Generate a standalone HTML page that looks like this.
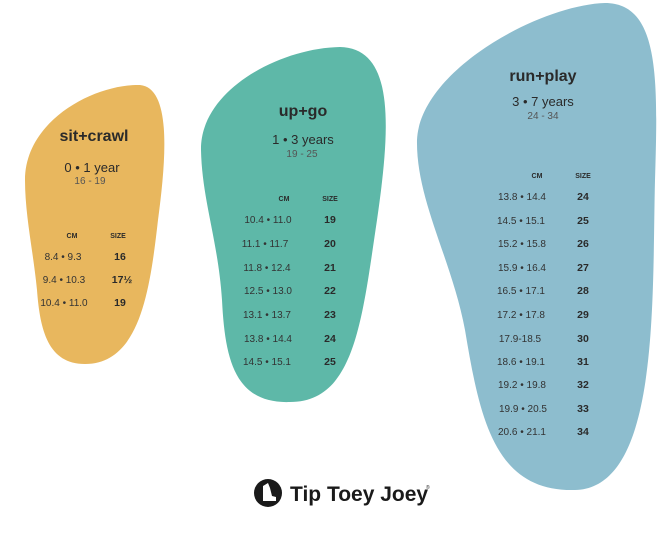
<!DOCTYPE html>
<html><head><meta charset="utf-8"><style>
body{margin:0;background:#fff;}
svg text{font-family:"Liberation Sans",sans-serif;fill:#2a2a2a;text-anchor:middle;}
.t{font-weight:bold;font-size:16px;}
.a{font-size:13px;}
.r{font-size:10px;fill:#555;}
.h{font-size:7px;font-weight:bold;}
.c{font-size:10px;fill:#333;}
.s{font-size:10.5px;font-weight:bold;}
</style></head><body>
<svg width="660" height="530" viewBox="0 0 660 530">
<path d="M25,180 C25,120 95,84 140,85 C172,88 166,160 158,220 C150,290 140,364 85,364 C48,364 40,330 37,290 C33,250 25,215 25,180Z" fill="#E8B75E"/>
<path d="M201,150 C200,90 280,48 340,47 C396,48 390,130 377,220 C362,320 355,402 290,402 C235,404 225,360 222,300 C218,240 202,200 201,150Z" fill="#5EB8A8"/>
<path d="M417,140 C420,70 540,5 605,3 C660,3 658,80 655,180 C652,300 660,488 575,490 C495,492 480,420 465,330 C452,260 416,200 417,140Z" fill="#8DBDCE"/>
<text class="t" x="94" y="141">sit+crawl</text>
<text class="a" x="92" y="172">0 • 1 year</text>
<text class="r" x="90" y="184">16 - 19</text>
<text class="h" x="72" y="238">CM</text><text class="h" x="118" y="238">SIZE</text>
<text class="c" x="63" y="260">8.4 • 9.3</text><text class="c" x="64" y="283">9.4 • 10.3</text><text class="c" x="64" y="306">10.4 • 11.0</text>
<text class="s" x="120" y="260">16</text><text class="s" x="122" y="283">17½</text><text class="s" x="120" y="306">19</text>

<text class="t" x="303" y="116">up+go</text>
<text class="a" x="303" y="144">1 • 3 years</text>
<text class="r" x="302" y="157">19 - 25</text>
<text class="h" x="284" y="201">CM</text><text class="h" x="330" y="201">SIZE</text>
<text class="c" x="268" y="223">10.4 • 11.0</text><text class="s" x="330" y="223">19</text>
<text class="c" x="265" y="247">11.1 • 11.7</text><text class="s" x="330" y="247">20</text>
<text class="c" x="267" y="271">11.8 • 12.4</text><text class="s" x="330" y="271">21</text>
<text class="c" x="268" y="294">12.5 • 13.0</text><text class="s" x="330" y="294">22</text>
<text class="c" x="267" y="318">13.1 • 13.7</text><text class="s" x="330" y="318">23</text>
<text class="c" x="268" y="342">13.8 • 14.4</text><text class="s" x="330" y="342">24</text>
<text class="c" x="267" y="365">14.5 • 15.1</text><text class="s" x="330" y="365">25</text>

<text class="t" x="543" y="81">run+play</text>
<text class="a" x="543" y="106">3 • 7 years</text>
<text class="r" x="543" y="119">24 - 34</text>
<text class="h" x="537" y="178">CM</text><text class="h" x="583" y="178">SIZE</text>
<text class="c" x="522" y="200">13.8 • 14.4</text><text class="s" x="583" y="200">24</text>
<text class="c" x="521" y="224">14.5 • 15.1</text><text class="s" x="583" y="224">25</text>
<text class="c" x="522" y="247">15.2 • 15.8</text><text class="s" x="583" y="247">26</text>
<text class="c" x="522" y="271">15.9 • 16.4</text><text class="s" x="583" y="271">27</text>
<text class="c" x="521" y="294">16.5 • 17.1</text><text class="s" x="583" y="294">28</text>
<text class="c" x="521" y="318">17.2 • 17.8</text><text class="s" x="583" y="318">29</text>
<text class="c" x="520" y="342">17.9-18.5</text><text class="s" x="583" y="342">30</text>
<text class="c" x="521" y="365">18.6 • 19.1</text><text class="s" x="583" y="365">31</text>
<text class="c" x="522" y="388">19.2 • 19.8</text><text class="s" x="583" y="388">32</text>
<text class="c" x="523" y="412">19.9 • 20.5</text><text class="s" x="583" y="412">33</text>
<text class="c" x="522" y="435">20.6 • 21.1</text><text class="s" x="583" y="435">34</text>

<circle cx="268" cy="493" r="14" fill="#1a1a1a"/>
<path d="M263,501 L263,486 L268,483 L270,488 L272,496 L276,497 L276,501Z" fill="#fff"/>
<text x="290" y="501" style="font-size:21px;font-weight:bold;text-anchor:start;fill:#1a1a1a">Tip Toey Joey</text>
<text x="426" y="489" style="font-size:5px;text-anchor:start">®</text>
</svg>
</body></html>
